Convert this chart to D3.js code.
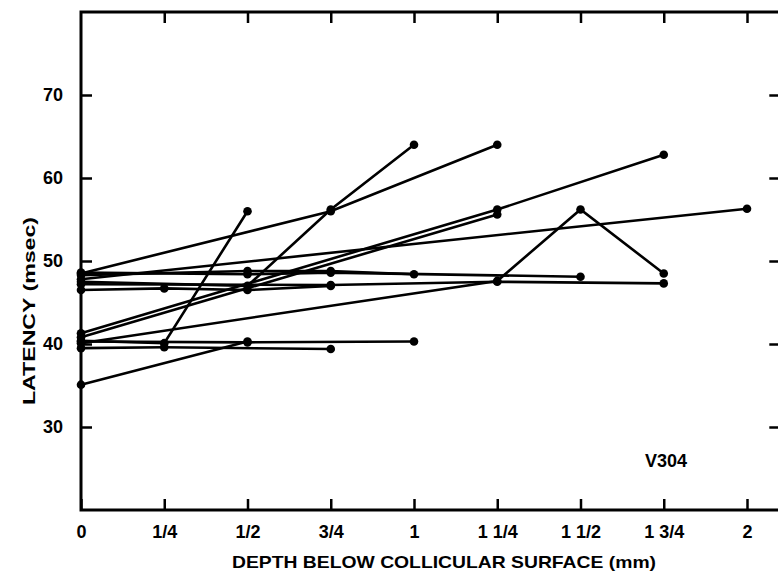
<!DOCTYPE html>
<html>
<head>
<meta charset="UTF-8">
<title>Latency vs depth below collicular surface</title>
<script src="https://d3js.org/d3.v7.min.js"></script>
<style>
  body { margin: 0; background: #fff; }
  svg { display: block; }
  text { font-family: "Liberation Sans", Arial, sans-serif; font-weight: bold; fill: #000; }
</style>
</head>
<body>
<svg width="778" height="571"></svg>
<script>
// depth ticks (mm) and their printed labels
const depthTicks  = [0, 0.25, 0.5, 0.75, 1, 1.25, 1.5, 1.75, 2];
const depthLabels = ["0", "1/4", "1/2", "3/4", "1", "1 1/4", "1 1/2", "1 3/4", "2"];
const latencyTicks = [30, 40, 50, 60, 70];

// each track: [depth, latency] pairs
const trackA = [[0, 48.5], [0.75, 56], [1.25, 64]];
const trackB = [[0, 47.5], [0.5, 47], [0.75, 56.2], [1, 64]];
const trackC = [[0, 40.4], [0.25, 40.1], [0.5, 56]];
const trackD = [[0, 41.3], [1.25, 56.2], [1.75, 62.8]];
const trackE = [[0, 40.8], [1.25, 55.6]];
const trackF = [[0, 47.8], [2, 56.3]];
const trackG = [[0, 48.3], [0.5, 48.8], [0.75, 48.8], [1, 48.4]];
const trackH = [[0, 48.6], [0.5, 48.4], [0.75, 48.6], [1.5, 48.1]];
const trackI = [[0, 47.2], [0.75, 47.1], [1.25, 47.5], [1.75, 47.3]];
const trackJ = [[0, 40.1], [1.25, 47.6], [1.5, 56.2], [1.75, 48.5]];
const trackK = [[0, 35.1], [0.5, 40.3]];
const trackL = [[0, 40.3], [0.5, 40.2], [1, 40.3]];
const trackM = [[0, 39.5], [0.25, 39.6], [0.75, 39.4]];
const trackN = [[0, 46.5], [0.25, 46.7], [0.5, 46.5], [0.75, 47]];
const tracks = [trackA, trackB, trackC, trackD, trackE, trackF, trackG,
                trackH, trackI, trackJ, trackK, trackL, trackM, trackN];

const svg = d3.select("svg");
const x = d3.scaleLinear().domain([0, 2]).range([81, 747]);
const y = d3.scaleLinear().domain([20, 80]).range([510, 12]);

// frame: left, bottom, top and right (right edge lies just off the page)
const xLeft = x(0), xRight = x(2.1), yBottom = y(20), yTop = y(80);
svg.append("path")
   .attr("d", `M${xRight},${yTop}H${xLeft}V${yBottom}H${xRight}`)
   .attr("fill", "none").attr("stroke", "#000").attr("stroke-width", 3);
svg.append("line")
   .attr("x1", xRight).attr("x2", xRight).attr("y1", yTop).attr("y2", yBottom)
   .attr("stroke", "#000").attr("stroke-width", 3);

// bottom axis: ticks pointing up into the plot
const axisB = svg.append("g")
   .attr("transform", `translate(0,${yBottom})`)
   .call(d3.axisBottom(x).tickValues(depthTicks)
          .tickFormat((d, i) => depthLabels[i]).tickSizeInner(-11).tickSizeOuter(0).tickPadding(15));
axisB.select(".domain").remove();
axisB.selectAll(".tick line").attr("stroke-width", 2.5);
axisB.selectAll(".tick text").attr("font-size", 18).attr("font-family", null);

// top edge ticks pointing down
const axisT = svg.append("g")
   .attr("transform", `translate(0,${yTop})`)
   .call(d3.axisTop(x).tickValues(depthTicks.slice(1)).tickFormat("").tickSizeInner(-11).tickSizeOuter(0));
axisT.select(".domain").remove();
axisT.selectAll(".tick line").attr("stroke-width", 2.5);

// left axis: ticks pointing right
const axisL = svg.append("g")
   .attr("transform", `translate(${xLeft},0)`)
   .call(d3.axisLeft(y).tickValues(latencyTicks).tickSizeInner(-11).tickSizeOuter(0).tickPadding(18));
axisL.select(".domain").remove();
axisL.selectAll(".tick line").attr("stroke-width", 2.5);
axisL.selectAll(".tick text").attr("font-size", 18).attr("font-family", null);

// right edge ticks pointing left
const axisR = svg.append("g")
   .attr("transform", `translate(${xRight},0)`)
   .call(d3.axisRight(y).tickValues(latencyTicks).tickFormat("").tickSizeInner(-11).tickSizeOuter(0));
axisR.select(".domain").remove();
axisR.selectAll(".tick line").attr("stroke-width", 2.5);

// tracks
const line = d3.line().x(d => x(d[0])).y(d => y(d[1]));
svg.selectAll(".track")
   .data(tracks)
   .enter()
   .append("path")
   .attr("class", "track")
   .attr("d", line)
   .attr("fill", "none")
   .attr("stroke", "#000")
   .attr("stroke-width", 2.6);

svg.selectAll(".dot")
   .data(tracks.flat())
   .enter()
   .append("circle")
   .attr("class", "dot")
   .attr("cx", d => x(d[0]))
   .attr("cy", d => y(d[1]))
   .attr("r", 4.3)
   .attr("fill", "#000");

// titles
svg.append("text")
   .attr("x", 444).attr("y", 568)
   .attr("text-anchor", "middle").attr("font-size", 17)
   .attr("textLength", 424).attr("lengthAdjust", "spacingAndGlyphs")
   .text("DEPTH BELOW COLLICULAR SURFACE (mm)");

svg.append("text")
   .attr("transform", "translate(35,311) rotate(-90)")
   .attr("text-anchor", "middle").attr("font-size", 17)
   .attr("textLength", 188).attr("lengthAdjust", "spacingAndGlyphs")
   .text("LATENCY (msec)");

svg.append("text")
   .attr("x", 645).attr("y", 467)
   .attr("font-size", 18)
   .text("V304");
</script>
</body>
</html>
